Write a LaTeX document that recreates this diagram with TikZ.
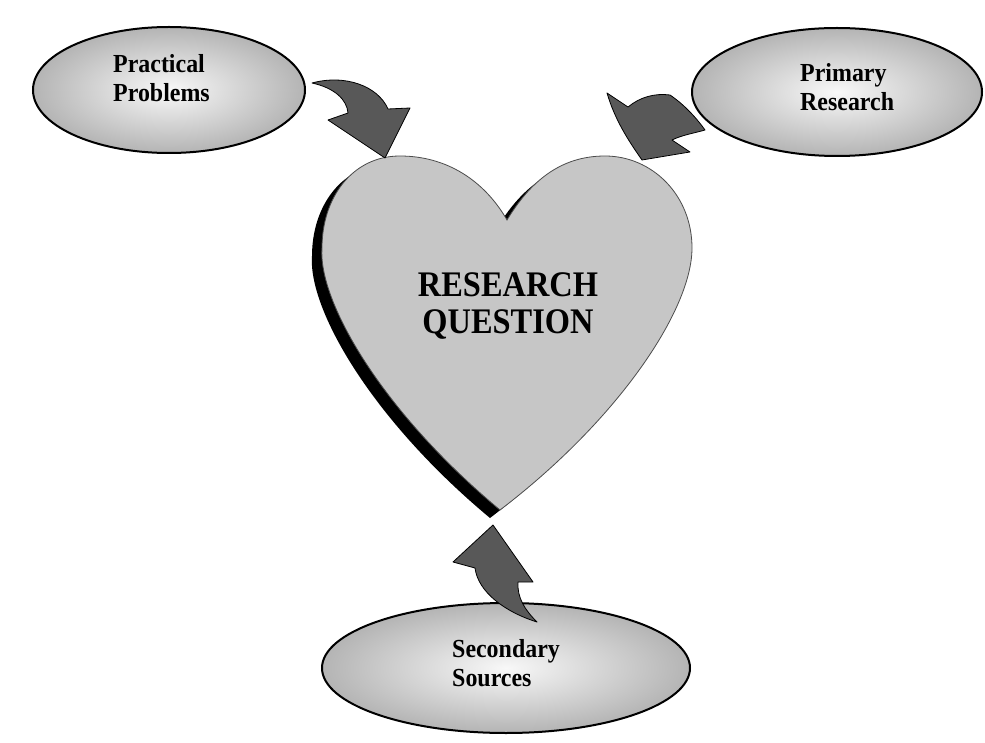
\documentclass[tikz,border=0pt]{standalone}
\usepackage{fontspec}
\setmainfont{Liberation Serif}
\newfontfamily\lblfont{Liberation Serif}[FakeStretch=0.92]
\newfontfamily\heartfont{Liberation Serif}[FakeStretch=0.9]
\usetikzlibrary{shapes.geometric}
\definecolor{heartgray}{RGB}{198,198,198}
\definecolor{arrowgray}{RGB}{88,88,88}
\definecolor{ellin}{RGB}{248,248,248}
\definecolor{ellout}{RGB}{180,180,180}
\tikzset{
  source/.style={ellipse, draw=black, line width=2pt, inner sep=0pt,
    inner color=ellin, outer color=ellout},
  srclabel/.style={align=left, anchor=base west, inner sep=0pt,
    font=\lblfont\bfseries\fontsize{26}{29}\selectfont},
  blockarrow/.style={fill=arrowgray, draw=black, line width=0.8pt, line join=round},
}
\begin{document}
\begin{tikzpicture}[x=1pt,y=-1pt]
\useasboundingbox (0,0) rectangle (985,743);
\fill[white] (0,0) rectangle (985,743);

% source ellipses
\node[source, minimum width=272pt, minimum height=126pt] (pp) at (169,90) {};
\node[source, minimum width=290pt, minimum height=128pt] (pr) at (837,92) {};
\node[source, minimum width=368pt, minimum height=130pt] (ss) at (506,668) {};

\node[srclabel] (ppt) at (113,102) {Practical\\Problems};
\node[srclabel] (prt) at (800,111) {Primary\\Research};
\node[srclabel] (sst) at (452,686) {Secondary\\Sources};

% heart shadow and heart
\def\heartpath{(507,220) .. controls (484,180) and (446,156) .. (400,156)
  .. controls (352,156) and (322,198) .. (322,248)
  .. controls (318,300) and (380,410) .. (500,510)
  .. controls (618,420) and (692,310) .. (692,248)
  .. controls (692,195) and (652,156) .. (605,156)
  .. controls (560,156) and (530,182) .. (507,220) -- cycle}
\fill[black, shift={(-10pt,-8pt)}] \heartpath;
\filldraw[fill=heartgray, draw=black!70, line width=0.8pt] \heartpath;

\node[align=center, anchor=base, inner sep=0pt,
  font=\heartfont\bfseries\fontsize{36}{36}\selectfont] (rq) at (508,333)
  {RESEARCH\\QUESTION};

% curved block arrows
\draw[blockarrow] (312,83) .. controls (345,74) and (378,86) .. (388,109)
  -- (410,108) -- (385,158) -- (328,120) -- (348,113)
  .. controls (347,100) and (335,88) .. (312,83) -- cycle;
\draw[blockarrow] (607,93) -- (628,107) .. controls (640,97) and (655,93) .. (670,95)
  .. controls (685,105) and (698,120) .. (705,130)
  .. controls (695,133) and (682,135) .. (672,140) -- (690,152) -- (642,160)
  .. controls (628,140) and (615,120) .. (607,93) -- cycle;
\draw[blockarrow] (493,525) -- (533,582) -- (518,582)
  .. controls (517,598) and (525,610) .. (537,622)
  .. controls (505,612) and (478,592) .. (475,568) -- (453,562) -- cycle;
\end{tikzpicture}
\end{document}
